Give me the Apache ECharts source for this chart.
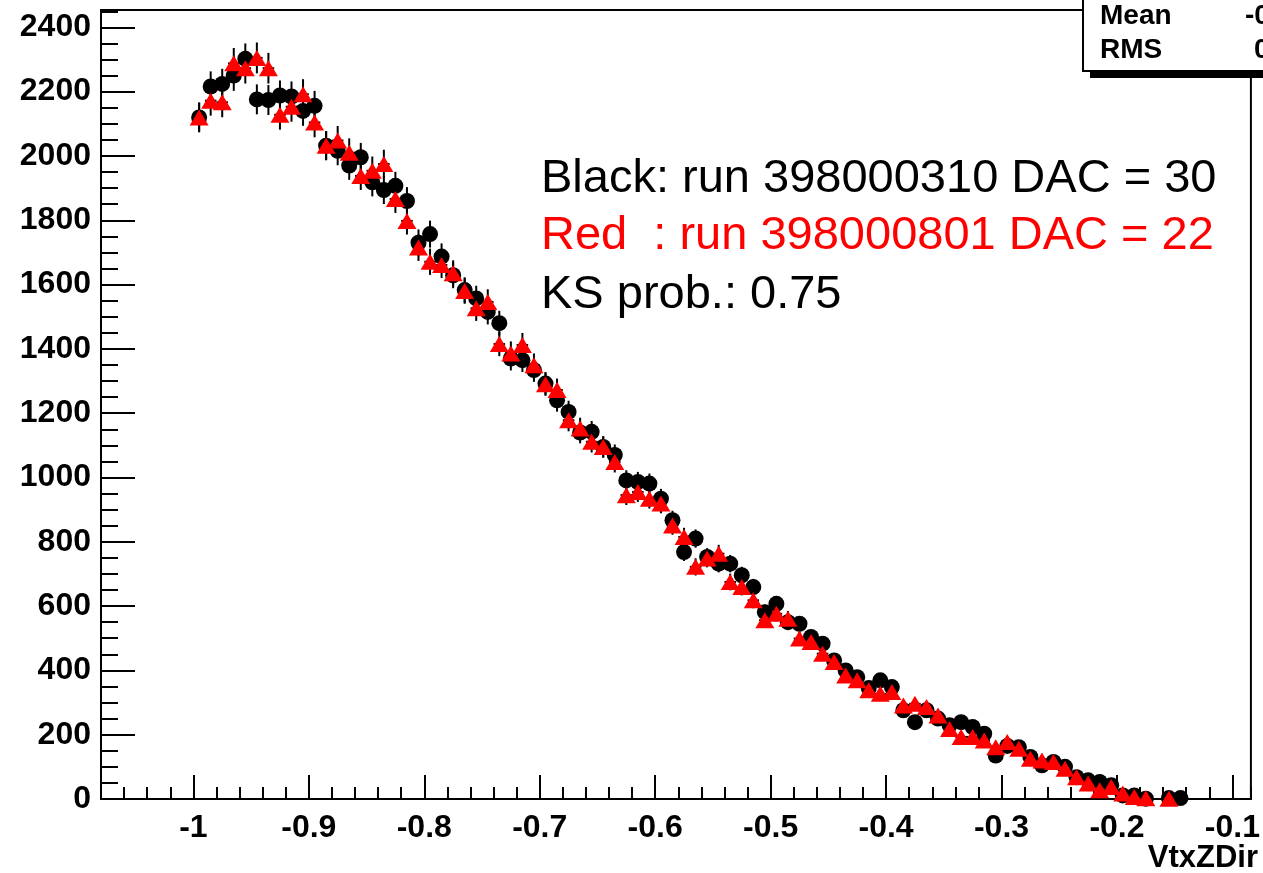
<!DOCTYPE html>
<html>
<head>
<meta charset="utf-8">
<script src="https://cdn.jsdelivr.net/npm/echarts@6/dist/echarts.min.js"></script>
<style>
html,body{margin:0;padding:0;background:#fff;}
#chart{width:1263px;height:873px;}
</style>
</head>
<body>
<div id="chart"></div>
<script>
// Bin centres of the histogram (VtxZDir)
const binCenters = [
  -0.995,-0.985,-0.975,-0.965,-0.955,-0.945,-0.935,-0.925,-0.915,-0.905,
  -0.895,-0.885,-0.875,-0.865,-0.855,-0.845,-0.835,-0.825,-0.815,-0.805,
  -0.795,-0.785,-0.775,-0.765,-0.755,-0.745,-0.735,-0.725,-0.715,-0.705,
  -0.695,-0.685,-0.675,-0.665,-0.655,-0.645,-0.635,-0.625,-0.615,-0.605,
  -0.595,-0.585,-0.575,-0.565,-0.555,-0.545,-0.535,-0.525,-0.515,-0.505,
  -0.495,-0.485,-0.475,-0.465,-0.455,-0.445,-0.435,-0.425,-0.415,-0.405,
  -0.395,-0.385,-0.375,-0.365,-0.355,-0.345,-0.335,-0.325,-0.315,-0.305,
  -0.295,-0.285,-0.275,-0.265,-0.255,-0.245,-0.235,-0.225,-0.215,-0.205,
  -0.195,-0.185,-0.175,-0.165,-0.155,-0.145
];
// Black: run 398000310 DAC = 30
const blackCounts = [
  2120,2216,2224,2250,2302,2176,2174,2188,2185,2140,
  2156,2032,2016,1970,1996,1918,1894,1907,1860,1730,
  1757,1687,1629,1583,1557,1515,1480,1370,1365,1334,
  1292,1240,1204,1140,1142,1095,1070,991,986,981,
  934,867,768,810,753,732,732,696,659,581,
  607,550,545,504,483,431,400,379,345,369,
  348,276,239,276,250,229,239,224,203,135,
  165,161,131,105,115,100,68,58,53,43,
  11,11,1,null,3,3
];
// Red: run 398000801 DAC = 22
const redCounts = [
  2120,2172,2167,2288,2273,2305,2273,2128,2153,2192,
  2104,2032,2048,2010,1938,1954,1975,1866,1798,1715,
  1671,1661,1635,1580,1526,1546,1415,1386,1412,1349,
  1290,1272,1178,1152,1111,1095,1048,945,955,934,
  919,851,815,722,748,763,675,659,618,556,
  576,561,499,488,452,426,384,369,338,327,
  333,291,296,286,260,218,193,193,182,161,
  177,156,125,120,115,94,68,48,27,37,
  17,6,2,null,1,null
];
const xTickLabels = [-1,-0.9,-0.8,-0.7,-0.6,-0.5,-0.4,-0.3,-0.2,-0.1];
const yTickLabels = [0,200,400,600,800,1000,1200,1400,1600,1800,2000,2200,2400];
const binHalfWidth = 0.005;

function pairs(ys){
  const out = [];
  for (let i = 0; i < binCenters.length; i++) {
    if (ys[i] !== null && ys[i] !== undefined) out.push([binCenters[i], ys[i]]);
  }
  return out;
}
const blackData = pairs(blackCounts);
const redData = pairs(redCounts);

function errRender(params, api){
  const x = api.value(0), y = api.value(1);
  const e = Math.sqrt(y);
  const t = api.coord([x, y + e]), b = api.coord([x, Math.max(0, y - e)]);
  const l = api.coord([x - binHalfWidth, y]), r = api.coord([x + binHalfWidth, y]);
  return {type:'group', children:[
    {type:'line', shape:{x1:t[0],y1:t[1],x2:b[0],y2:b[1]}, style:{stroke:'#000',lineWidth:2}},
    {type:'line', shape:{x1:l[0],y1:l[1],x2:r[0],y2:r[1]}, style:{stroke:'#000',lineWidth:2}}
  ]};
}

const FONT = 'Liberation Sans, Arial, Helvetica, sans-serif';
const chart = echarts.init(document.getElementById('chart'), null, {renderer:'canvas'});
chart.setOption({
  animation:false,
  backgroundColor:'#ffffff',
  grid:{left:101,right:4,top:10,bottom:74,show:true,borderColor:'#000',borderWidth:2,backgroundColor:'transparent'},
  xAxis:[
    {type:'value',min:-1.08,max:-0.084,position:'bottom',
     axisLine:{show:true,onZero:false,lineStyle:{color:'#000',width:2}},
     axisTick:{show:true,inside:true,length:24,customValues:xTickLabels,lineStyle:{color:'#000',width:2}},
     axisLabel:{show:true,customValues:xTickLabels,margin:13,color:'#000',fontSize:32,fontWeight:'bold',fontFamily:FONT,
       formatter:function(v){return String(v);}},
     splitLine:{show:false}},
    {type:'value',min:-1.08,max:-0.084,interval:0.02,position:'bottom',offset:0,
     axisLine:{show:false},
     axisTick:{show:true,inside:true,length:12,lineStyle:{color:'#000',width:2}},
     axisLabel:{show:false},splitLine:{show:false}}
  ],
  yAxis:[
    {type:'value',min:0,max:2454,position:'left',
     axisLine:{show:true,onZero:false,lineStyle:{color:'#000',width:2}},
     axisTick:{show:true,inside:true,length:34,customValues:yTickLabels,lineStyle:{color:'#000',width:2}},
     axisLabel:{show:true,customValues:yTickLabels,margin:10,color:'#000',fontSize:32,fontWeight:'bold',fontFamily:FONT,
       formatter:function(v){return String(v);}},
     splitLine:{show:false}},
    {type:'value',min:0,max:2454,interval:50,position:'left',offset:0,
     axisLine:{show:false},
     axisTick:{show:true,inside:true,length:17,lineStyle:{color:'#000',width:2}},
     axisLabel:{show:false},splitLine:{show:false}}
  ],
  series:[
    {type:'custom',name:'black err',data:blackData,renderItem:errRender,z:1,clip:true},
    {type:'custom',name:'red err',data:redData,renderItem:errRender,z:1,clip:true},
    {type:'scatter',name:'Black',data:blackData,symbol:'circle',symbolSize:16,itemStyle:{color:'#000',opacity:1},z:2},
    {type:'scatter',name:'Red',data:redData,symbol:'triangle',symbolSize:[19,16],itemStyle:{color:'#ff0000',opacity:1},z:3}
  ],
  graphic:[
    {type:'text',x:541,y:179,style:{text:'Black: run 398000310 DAC = 30',fill:'#000',font:'47px '+FONT,verticalAlign:'middle'}},
    {type:'text',x:541,y:236,style:{text:'Red  : run 398000801 DAC = 22',fill:'#ff0000',font:'47px '+FONT,verticalAlign:'middle'}},
    {type:'text',x:541,y:295,style:{text:'KS prob.: 0.75',fill:'#000',font:'47px '+FONT,verticalAlign:'middle'}},
    {type:'text',x:1258,y:858,style:{text:'VtxZDir',fill:'#000',font:'bold 31px '+FONT,align:'right',verticalAlign:'middle'}},
    {type:'rect',x:1090,y:-10,shape:{width:200,height:88},style:{fill:'#000'},z:100},
    {type:'rect',x:1083,y:-10,shape:{width:200,height:81},style:{fill:'#fff',stroke:'#000',lineWidth:2},z:101},
    {type:'text',x:1100,y:16,style:{text:'Mean',fill:'#000',font:'bold 28px '+FONT,verticalAlign:'middle'},z:102},
    {type:'text',x:1100,y:50,style:{text:'RMS',fill:'#000',font:'bold 28px '+FONT,verticalAlign:'middle'},z:102},
    {type:'text',x:1245,y:16,style:{text:'-0.6567',fill:'#000',font:'bold 28px '+FONT,verticalAlign:'middle'},z:102},
    {type:'text',x:1254,y:50,style:{text:'0.2034',fill:'#000',font:'bold 28px '+FONT,verticalAlign:'middle'},z:102}
  ]
});
</script>
</body>
</html>
